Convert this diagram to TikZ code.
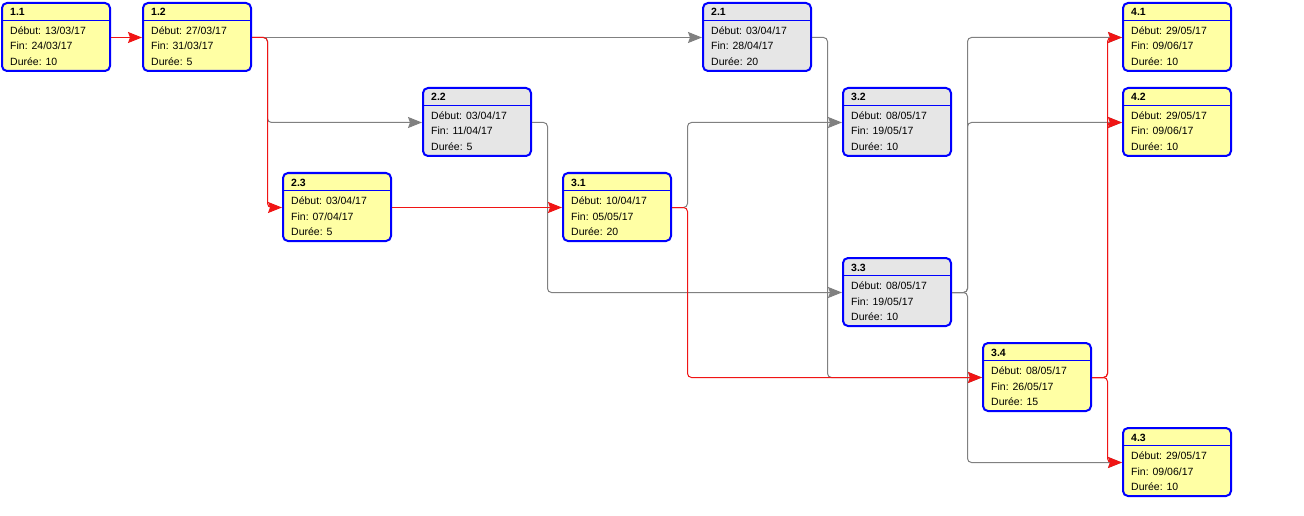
\documentclass[tikz,border=0pt]{standalone}
\usepackage{fontspec}
\setmainfont{Liberation Sans}
\usepackage{tikz}
\usetikzlibrary{arrows.meta}
\definecolor{crit}{RGB}{255,255,164}
\definecolor{free}{RGB}{230,230,230}
\definecolor{link}{RGB}{128,128,128}
\definecolor{critlink}{RGB}{240,20,20}
\tikzstyle{task}=[rectangle, rounded corners=5pt, draw=blue, line width=2pt, anchor=north west, minimum width=108pt, minimum height=68pt, inner sep=0pt]
\tikzstyle{sep}=[draw=blue, line width=1pt]
\tikzstyle{txt}=[anchor=base west, inner sep=0pt, font=\fontsize{10.5}{12}\selectfont]
\tikzstyle{edge}=[line width=1pt, rounded corners=4pt, -{Stealth[length=14pt, width=11pt, inset=2pt]}]
\tikzstyle{gedge}=[edge, draw=link]
\tikzstyle{redge}=[edge, draw=critlink]
\newcommand{\tache}[8]{%
	\node[task, fill=#8] (#1) at (#2,#3) {};
	\draw[sep] ([yshift=-18.5pt]#1.north west) -- ([yshift=-18.5pt]#1.north east);
	\node[txt, font=\fontsize{10.5}{12}\selectfont\bfseries] (#1-id) at ([xshift=9pt, yshift=-14pt]#1.north west) {#4};
	\node[txt] (#1-deb) at ([xshift=9pt, yshift=-32.5pt]#1.north west) {Début: #5};
	\node[txt] (#1-fin) at ([xshift=9pt, yshift=-48pt]#1.north west) {Fin: #6};
	\node[txt] (#1-dur) at ([xshift=9pt, yshift=-63.5pt]#1.north west) {Durée: #7};
	\coordinate (#1-in) at ([yshift=-35.5pt]#1.north west);
	\coordinate (#1-out) at ([yshift=-35.5pt]#1.north east);
}

\begin{document}
\begin{tikzpicture}[x=1pt, y=-1pt]
	\fill[white] (0,0) rectangle (1304,516);
	\useasboundingbox (0,0) rectangle (1304,516);
	\tache{n11}{1}{2}{1.1}{13/03/17}{24/03/17}{10}{crit}
	\tache{n12}{142}{2}{1.2}{27/03/17}{31/03/17}{5}{crit}
	\tache{n21}{702}{2}{2.1}{03/04/17}{28/04/17}{20}{free}
	\tache{n22}{422}{87}{2.2}{03/04/17}{11/04/17}{5}{free}
	\tache{n23}{282}{172}{2.3}{03/04/17}{07/04/17}{5}{crit}
	\tache{n31}{562}{172}{3.1}{10/04/17}{05/05/17}{20}{crit}
	\tache{n32}{842}{87}{3.2}{08/05/17}{19/05/17}{10}{free}
	\tache{n33}{842}{257}{3.3}{08/05/17}{19/05/17}{10}{free}
	\tache{n34}{982}{342}{3.4}{08/05/17}{26/05/17}{15}{crit}
	\tache{n41}{1122}{2}{4.1}{29/05/17}{09/06/17}{10}{crit}
	\tache{n42}{1122}{87}{4.2}{29/05/17}{09/06/17}{10}{crit}
	\tache{n43}{1122}{427}{4.3}{29/05/17}{09/06/17}{10}{crit}
	\draw[gedge] (n12-out) -- (n21-in);
	\draw[gedge] (n12-out) -- ++(15.5,0) |- (n22-in);
	\draw[gedge] (n22-out) -- ++(15.5,0) |- (n33-in);
	\draw[gedge] (n31-out) -- ++(15.5,0) |- (n32-in);
	\draw[gedge] (n21-out) -- ++(15.5,0) |- (n34-in);
	\draw[gedge] (n33-out) -- ++(15.5,0) |- (n41-in);
	\draw[gedge] (n33-out) -- ++(15.5,0) |- (n42-in);
	\draw[gedge] (n33-out) -- ++(15.5,0) |- (n43-in);
	\draw[redge] (n11-out) -- (n12-in);
	\draw[redge] (n12-out) -- ++(15.5,0) |- (n23-in);
	\draw[redge] (n23-out) -- (n31-in);
	\draw[redge] (n31-out) -- ++(15.5,0) |- (n34-in);
	\draw[redge] (n34-out) -- ++(15.5,0) |- (n41-in);
	\draw[redge] (n34-out) -- ++(15.5,0) |- (n42-in);
	\draw[redge] (n34-out) -- ++(15.5,0) |- (n43-in);
\end{tikzpicture}
\end{document}
